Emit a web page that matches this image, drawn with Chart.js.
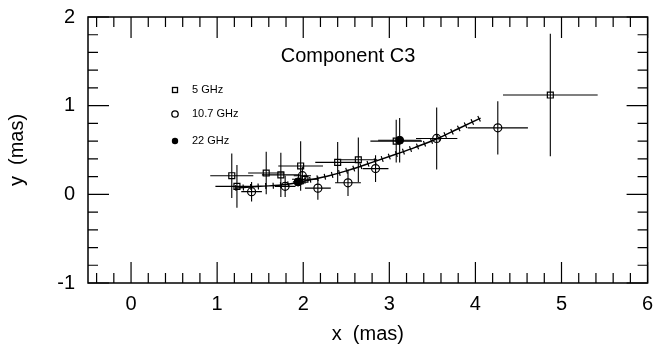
<!DOCTYPE html>
<html>
<head>
<meta charset="utf-8">
<script src="https://cdn.jsdelivr.net/npm/chart.js@4"></script>
<style>
html, body { margin: 0; padding: 0; background: #fff; }
#wrap { width: 653px; height: 346px; }
</style>
</head>
<body>
<div id="wrap"><canvas id="chart_componentC3"></canvas></div>
<script>
// 5 GHz positions and errors (mas)
var ghz5X  = [1.17, 1.23, 1.57, 1.74, 1.97, 2.02, 2.40, 2.64, 3.08, 4.87];
var ghz5Y  = [0.21, 0.09, 0.24, 0.22, 0.32, 0.17, 0.36, 0.39, 0.60, 1.12];
var ghz5Dx = [0.25, 0.25, 0.21, 0.22, 0.26, 0.15, 0.26, 0.22, 0.30, 0.55];
var ghz5Dy = [0.25, 0.24, 0.24, 0.25, 0.28, 0.05, 0.23, 0.25, 0.24, 0.69];

// 10.7 GHz
var ghz107X  = [1.40, 1.79, 1.99, 2.17, 2.52, 2.84, 3.55, 4.26];
var ghz107Y  = [0.03, 0.09, 0.21, 0.07, 0.13, 0.29, 0.63, 0.75];
var ghz107Dx = [0.12, 0.12, 0.10, 0.15, 0.15, 0.15, 0.24, 0.35];
var ghz107Dy = [0.11, 0.12, 0.10, 0.13, 0.15, 0.15, 0.35, 0.30];

// 22 GHz
var ghz22X  = [1.94, 3.12];
var ghz22Y  = [0.14, 0.61];
var ghz22Dx = [0.06, 0.25];
var ghz22Dy = [0.05, 0.25];

// model track
var trackX = [1.21, 1.50, 1.80, 2.06, 2.30, 2.52, 2.80, 3.10, 3.30, 3.56, 3.80, 4.06];
var trackY = [0.07, 0.09, 0.11, 0.16, 0.21, 0.27, 0.36, 0.46, 0.53, 0.63, 0.74, 0.86];

var legendLabels = ['5 GHz', '10.7 GHz', '22 GHz'];
var chartTitle = 'Component C3';
var xTitle = 'x  (mas)';
var yTitle = 'y  (mas)';

function toPoints(xs, ys, dxs, dys) {
    return xs.map(function(x, i) {
        var p = { x: x, y: ys[i] };
        if (dxs) { p.dx = dxs[i]; p.dy = dys[i]; }
        return p;
    });
}

var FONT = '"Liberation Sans", Arial, sans-serif';

var errorBars = {
    id: 'errorBars',
    beforeDatasetsDraw: function(chart) {
        var ctx = chart.ctx, xs = chart.scales.x, ys = chart.scales.y;
        ctx.save();
        ctx.strokeStyle = '#000';
        ctx.lineWidth = 1.1;
        chart.data.datasets.forEach(function(ds) {
            if (!ds.errorBars) return;
            ds.data.forEach(function(p) {
                var px = xs.getPixelForValue(p.x), py = ys.getPixelForValue(p.y);
                ctx.beginPath();
                ctx.moveTo(xs.getPixelForValue(p.x - p.dx), py);
                ctx.lineTo(xs.getPixelForValue(p.x + p.dx), py);
                ctx.moveTo(px, ys.getPixelForValue(p.y - p.dy));
                ctx.lineTo(px, ys.getPixelForValue(p.y + p.dy));
                ctx.stroke();
            });
        });
        ctx.restore();
    }
};

var frameTicks = {
    id: 'frameTicks',
    afterDraw: function(chart) {
        var ctx = chart.ctx, a = chart.chartArea, xs = chart.scales.x, ys = chart.scales.y;
        ctx.save();
        ctx.strokeStyle = '#000';
        ctx.lineWidth = 1.5;
        ctx.strokeRect(a.left, a.top, a.right - a.left, a.bottom - a.top);
        ctx.lineWidth = 1.2;
        ctx.beginPath();
        var i, v, p, len;
        for (i = -2; i <= 30; i++) {
            v = i / 5;
            p = xs.getPixelForValue(v);
            len = (i % 5 === 0) ? 21 : 10;
            ctx.moveTo(p, a.bottom); ctx.lineTo(p, a.bottom - len);
            ctx.moveTo(p, a.top); ctx.lineTo(p, a.top + len);
        }
        for (i = -5; i <= 10; i++) {
            v = i / 5;
            p = ys.getPixelForValue(v);
            len = (i % 5 === 0) ? 21 : 10;
            ctx.moveTo(a.left, p); ctx.lineTo(a.left + len, p);
            ctx.moveTo(a.right, p); ctx.lineTo(a.right - len, p);
        }
        ctx.stroke();

        // title inside the frame
        ctx.fillStyle = '#000';
        ctx.font = '20px ' + FONT;
        ctx.textAlign = 'center';
        ctx.textBaseline = 'alphabetic';
        ctx.fillText(chartTitle, 348, 62);

        // legend
        ctx.font = '11px ' + FONT;
        ctx.textAlign = 'left';
        ctx.textBaseline = 'middle';
        ctx.lineWidth = 1.3;
        var rows = [90, 114, 141];
        legendLabels.forEach(function(t, k) {
            var cy = rows[k];
            ctx.beginPath();
            if (k === 0) {
                ctx.strokeRect(172.5, cy - 2.5, 5, 5);
            } else {
                ctx.arc(175, cy, 3.2, 0, Math.PI * 2);
                if (k === 2) ctx.fill(); else ctx.stroke();
            }
            ctx.fillText(t, 192, cy);
        });
        ctx.restore();
    }
};

var chart_componentC3 = new Chart(document.getElementById('chart_componentC3'), {
    type: 'scatter',
    data: {
        datasets: [
            {
                label: 'track',
                type: 'line',
                data: toPoints(trackX, trackY),
                borderColor: '#000',
                borderWidth: 1.5,
                pointRadius: 0,
                cubicInterpolationMode: 'monotone',
                fill: false
            },
            {
                label: 'track ticks',
                type: 'line',
                data: toPoints(trackX, trackY),
                borderColor: '#000',
                borderWidth: 6,
                borderDash: [1.2, 6.3],
                borderCapStyle: 'butt',
                pointRadius: 0,
                cubicInterpolationMode: 'monotone',
                fill: false
            },
            {
                label: legendLabels[0],
                data: toPoints(ghz5X, ghz5Y, ghz5Dx, ghz5Dy),
                errorBars: true,
                pointStyle: 'rect',
                pointRadius: 4.2,
                borderColor: '#000',
                borderWidth: 1.2,
                backgroundColor: 'rgba(0,0,0,0)'
            },
            {
                label: legendLabels[1],
                data: toPoints(ghz107X, ghz107Y, ghz107Dx, ghz107Dy),
                errorBars: true,
                pointStyle: 'circle',
                pointRadius: 4,
                borderColor: '#000',
                borderWidth: 1.2,
                backgroundColor: 'rgba(0,0,0,0)'
            },
            {
                label: legendLabels[2],
                data: toPoints(ghz22X, ghz22Y, ghz22Dx, ghz22Dy),
                errorBars: true,
                pointStyle: 'circle',
                pointRadius: 4,
                borderColor: '#000',
                borderWidth: 1,
                backgroundColor: '#000'
            }
        ]
    },
    options: {
        animation: false,
        responsive: true,
        maintainAspectRatio: false,
        layout: { padding: { top: 17, right: 2, left: 0, bottom: 0 } },
        plugins: {
            legend: { display: false },
            tooltip: { enabled: false },
            title: { display: false }
        },
        scales: {
            x: {
                type: 'linear',
                min: -0.5,
                max: 6,
                afterFit: function(scale) {
                    scale.height = 63;
                    scale.paddingLeft = 0;
                    scale.paddingRight = 0;
                },
                grid: { display: false, drawTicks: false },
                border: { display: false },
                ticks: {
                    stepSize: 1,
                    includeBounds: false,
                    padding: 9,
                    color: '#000',
                    font: { family: FONT, size: 20 },
                    maxRotation: 0
                },
                title: {
                    display: true,
                    text: xTitle,
                    color: '#000',
                    font: { family: FONT, size: 20 },
                    padding: { top: 0, bottom: 0 }
                }
            },
            y: {
                type: 'linear',
                min: -1,
                max: 2,
                afterFit: function(scale) {
                    scale.width = 88;
                    scale.paddingTop = 0;
                    scale.paddingBottom = 0;
                },
                grid: { display: false, drawTicks: false },
                border: { display: false },
                ticks: {
                    stepSize: 1,
                    padding: 13,
                    color: '#000',
                    font: { family: FONT, size: 20 }
                },
                title: {
                    display: true,
                    text: yTitle,
                    color: '#000',
                    font: { family: FONT, size: 20 },
                    padding: { top: 5, bottom: 0 }
                }
            }
        }
    },
    plugins: [errorBars, frameTicks, {
        id: 'whiteBg',
        beforeDraw: function(chart) {
            var ctx = chart.canvas.getContext('2d');
            ctx.save();
            ctx.globalCompositeOperation = 'destination-over';
            ctx.fillStyle = 'white';
            ctx.fillRect(0, 0, chart.canvas.width, chart.canvas.height);
            ctx.restore();
        }
    }]
});
</script>
</body>
</html>
